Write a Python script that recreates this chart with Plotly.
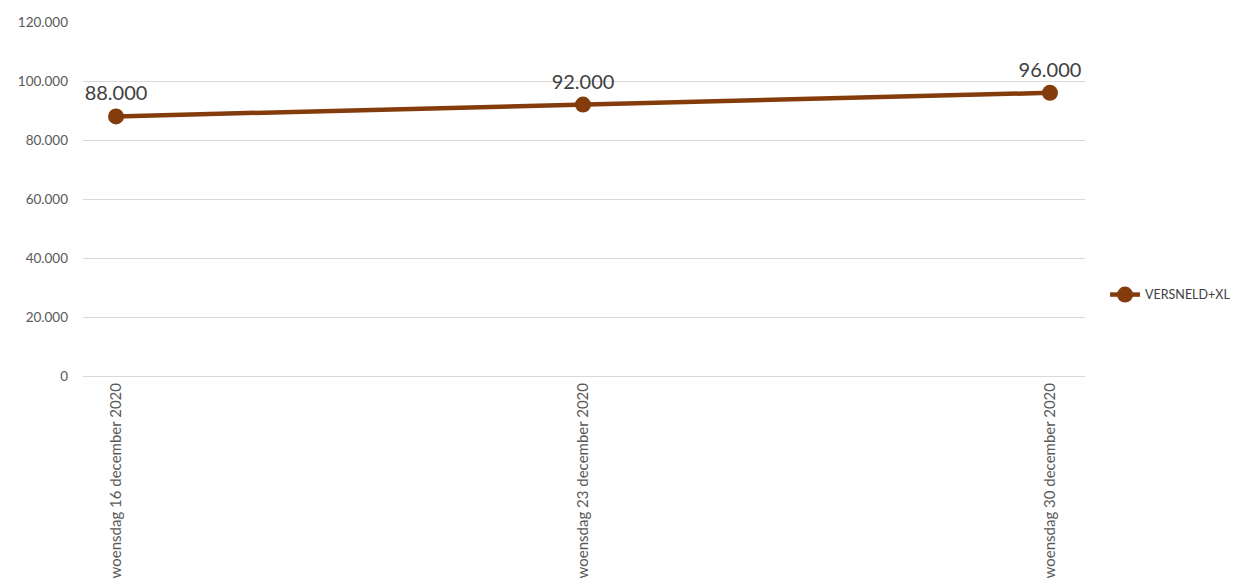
import plotly.graph_objects as go

categories = ["woensdag 16 december 2020", "woensdag 23 december 2020", "woensdag 30 december 2020"]
values = [88000, 92000, 96000]
series_name = "VERSNELD+XL"
y_ticks = [0, 20000, 40000, 60000, 80000, 100000, 120000]

color = "#843C0C"
font_family = "Lato, Liberation Sans, sans-serif"

fig = go.Figure()
fig.add_trace(go.Scatter(
    x=categories, y=values, name=series_name,
    mode="lines+markers+text",
    line=dict(color=color, width=4.5),
    marker=dict(color=color, size=16),
    text=[f"{v:,}".replace(",", ".") for v in values],
    textposition="top center",
    textfont=dict(size=20, color="#404040", family=font_family),
))

fig.update_layout(
    width=1235, height=571,
    margin=dict(l=75, r=158, t=14, b=203, autoexpand=False),
    paper_bgcolor="white", plot_bgcolor="white",
    separators=",.",
    showlegend=True,
    legend=dict(x=1.02, y=0.229, xanchor="left", yanchor="middle",
                font=dict(size=12.5, color="#404040", family=font_family),
                bgcolor="rgba(0,0,0,0)"),
    font=dict(family=font_family, color="#595959"),
)
fig.update_xaxes(
    type="category", range=[-0.0707, 2.075],
    tickangle=-90, tickfont=dict(size=15, color="#595959"),
    showgrid=False, showline=True, linecolor="#D9D9D9", linewidth=1,
    ticks="", zeroline=False,
)
fig.update_yaxes(
    range=[0, 120000], tickvals=y_ticks,
    tickformat=",d", tickfont=dict(size=13.5, color="#595959"),
    showgrid=True, gridcolor="#D9D9D9", gridwidth=1,
    zeroline=False, showline=False, ticks="", ticklabelstandoff=14,
)

fig.write_html("out.html")
